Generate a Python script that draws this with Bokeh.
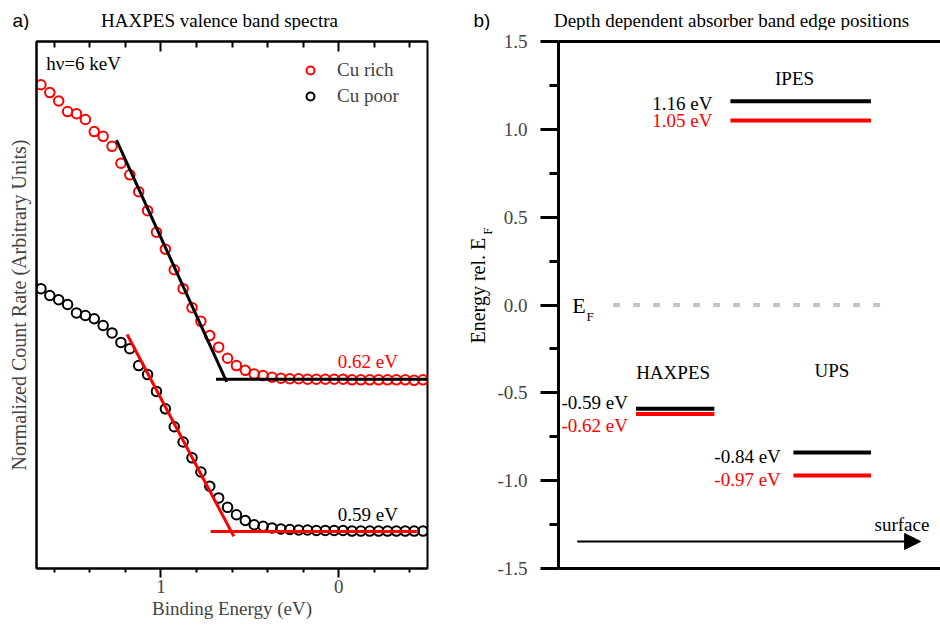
from math import pi
from bokeh.plotting import figure
from bokeh.layouts import row, column
from bokeh.models import (Range1d, LinearAxis, FixedTicker, Legend, LegendItem,
                          Arrow, NormalHead, PrintfTickFormatter)
from bokeh.core.properties import value
from bokeh.embed import file_html
from bokeh.resources import INLINE

SERIF = "Liberation Serif"
SANS = "Liberation Sans"

# ---------------- panel a) data : HAXPES valence band spectra ----------------
binding_energy = [1.725, 1.675, 1.625, 1.575, 1.525, 1.475, 1.425, 1.375, 1.325, 1.275,
                  1.225, 1.175, 1.125, 1.075, 1.025, 0.975, 0.925, 0.875, 0.825, 0.775,
                  0.725, 0.675, 0.625, 0.575, 0.525, 0.475, 0.425, 0.375, 0.325, 0.275,
                  0.225, 0.175, 0.125, 0.075, 0.025, -0.025, -0.075, -0.125, -0.175, -0.225,
                  -0.275, -0.325, -0.375, -0.425, -0.475]
cu_rich = [93.0, 91.8, 90.3, 88.7, 86.7, 86.3, 85.2, 82.9, 82.0, 80.1,
           76.9, 74.7, 71.5, 67.9, 63.8, 60.6, 56.7, 53.1, 49.5, 46.9,
           44.2, 42.0, 39.9, 38.5, 37.6, 36.9, 36.6, 36.3, 36.1, 36.0,
           36.0, 35.9, 35.9, 35.9, 35.9, 35.9, 35.8, 35.8, 35.8, 35.8,
           35.8, 35.8, 35.8, 35.7, 35.8]
cu_poor = [54.3, 53.1, 51.8, 51.0, 50.1, 48.5, 48.0, 47.4, 46.1, 44.7,
           42.9, 41.7, 38.5, 36.8, 33.6, 30.3, 26.9, 24.0, 21.0, 18.3,
           15.6, 13.4, 11.6, 10.2, 9.1, 8.3, 8.0, 7.7, 7.5, 7.4,
           7.3, 7.3, 7.2, 7.2, 7.2, 7.2, 7.1, 7.1, 7.1, 7.1,
           7.1, 7.1, 7.1, 7.1, 7.1]

# linear extrapolations of the leading edge and of the background
rich_edge_x = [1.25, 0.63]
rich_edge_y = [81.3, 35.4]
rich_base_x = [0.69, -0.50]
rich_base_y = [35.9, 35.9]
poor_edge_x = [1.19, 0.59]
poor_edge_y = [44.4, 6.1]
poor_base_x = [0.72, -0.44]
poor_base_y = [7.0, 7.0]

vbm_rich_text = "0.62 eV"
vbm_poor_text = "0.59 eV"

# ---------------- panel b) data : band edge positions ----------------
methods = ["IPES", "HAXPES", "UPS"]
cu_poor_levels = [1.16, -0.59, -0.84]
cu_rich_levels = [1.05, -0.62, -0.97]
fermi_level = 0.0

# layout (depth axis, arbitrary 0..100) for panel b
bar_x0 = [45.0, 20.3, 61.5]
bar_x1 = [81.8, 40.8, 81.8]
method_label_x = [61.8, 30.0, 71.6]
method_label_y = [1.289, -0.384, -0.373]
value_label_x = [40.3, 18.2, 58.2]
poor_label_dy = [2, -6, 4]
rich_label_dy = [0, 12, 4]

HEADER_H = 30
TOP = 11          # space above the plot frames (frames start at 41 px)
BOTTOM = 57
ROW_H = 625 - HEADER_H
YLAB_W = 34


def bare(fig):
    fig.outline_line_color = None
    for g in fig.grid:
        g.visible = False


# ====================== header (panel letters and titles) ======================
header = figure(width=940, height=HEADER_H, x_range=Range1d(0, 940), y_range=Range1d(HEADER_H, 0),
                output_backend="svg", toolbar_location=None, min_border=0,
                x_axis_location=None, y_axis_location=None)
bare(header)
header.text(x=[12, 473], y=[20, 20], text=["a)", "b)"], text_font=value(SANS),
            text_font_size="19px", text_align="left", text_baseline="middle")
header.text(x=[219, 731], y=[20, 20],
            text=["HAXPES valence band spectra", "Depth dependent absorber band edge positions"],
            text_font=value(SERIF), text_font_size="19px", text_align="center", text_baseline="middle")

# ====================== panel a ======================
pa = figure(width=460, height=ROW_H, x_range=Range1d(1.70, -0.50), y_range=Range1d(0, 100),
            output_backend="svg", toolbar_location=None,
            min_border_left=36, min_border_right=33, min_border_top=TOP, min_border_bottom=BOTTOM,
            x_axis_location=None, y_axis_location=None)
for g in pa.grid:
    g.visible = False
pa.outline_line_color = "black"
pa.outline_line_width = 2
pa.outline_line_alpha = 1.0

ticker_a = FixedTicker(ticks=[1, 0], minor_ticks=[1.6, 1.4, 1.2, 0.8, 0.6, 0.4, 0.2, -0.2, -0.4])
xb = LinearAxis(ticker=ticker_a, axis_label="Binding Energy (eV)",
                axis_line_width=2, major_tick_line_width=2, minor_tick_line_width=2,
                major_tick_out=9, major_tick_in=0, minor_tick_out=4, minor_tick_in=0,
                major_label_standoff=2, axis_label_standoff=2,
                major_label_text_font=SERIF, major_label_text_font_size="19px",
                axis_label_text_font=SERIF, axis_label_text_font_size="19px",
                axis_label_text_font_style="normal")
pa.add_layout(xb, "below")
xt = LinearAxis(ticker=ticker_a, axis_line_width=2, major_tick_line_width=2, minor_tick_line_width=2,
                major_tick_out=0, major_tick_in=10, minor_tick_out=0, minor_tick_in=6,
                major_label_standoff=0, major_label_text_font_size="0px",
                major_label_overrides={0: "", 1: ""})
pa.add_layout(xt, "above")
yl = LinearAxis(ticker=FixedTicker(ticks=[]), axis_label="Normalized Count Rate (Arbitrary Units)",
                axis_line_width=2, major_tick_out=0, major_tick_in=0, minor_tick_out=0, minor_tick_in=0,
                major_tick_line_color=None, minor_tick_line_color=None,
                major_label_standoff=0, axis_label_standoff=7,
                axis_label_text_font=SERIF, axis_label_text_font_size="20px",
                axis_label_text_font_style="normal")
pa.add_layout(yl, "left")

r_rich = pa.scatter(binding_energy, cu_rich, marker="circle", size=9.5, fill_color=None,
                    line_color="red", line_width=2)
r_poor = pa.scatter(binding_energy, cu_poor, marker="circle", size=9.5, fill_color=None,
                    line_color="black", line_width=2)
pa.line(rich_edge_x, rich_edge_y, line_color="black", line_width=3)
pa.line(rich_base_x, rich_base_y, line_color="black", line_width=3)
pa.line(poor_edge_x, poor_edge_y, line_color="red", line_width=3)
pa.line(poor_base_x, poor_base_y, line_color="red", line_width=3)

pa.text(x=[0.005], y=[39.3], text=[vbm_rich_text], text_color="red", text_font=value(SERIF),
        text_font_size="19px", text_align="left", text_baseline="middle")
pa.text(x=[0.005], y=[10.2], text=[vbm_poor_text], text_color="black", text_font=value(SERIF),
        text_font_size="19px", text_align="left", text_baseline="middle")
pa.text(x=[1.645], y=[95.8], text=["h\u03bd=6 keV"], text_color="black", text_font=value(SERIF),
        text_font_size="19px", text_align="left", text_baseline="middle")

legend = Legend(items=[LegendItem(label="Cu rich", renderers=[r_rich]),
                       LegendItem(label="Cu poor", renderers=[r_poor])],
                location=(264, 461), padding=0, margin=0, spacing=4,
                glyph_width=20, glyph_height=20, label_height=20, label_standoff=17,
                label_text_font=SERIF, label_text_font_size="19px",
                border_line_color=None, background_fill_alpha=0)
pa.add_layout(legend)

# ====================== y label of panel b (with subscript) ======================
ylab = figure(width=YLAB_W, height=ROW_H, x_range=Range1d(0, YLAB_W), y_range=Range1d(-1.5, 1.5),
              output_backend="svg", toolbar_location=None, min_border_left=0, min_border_right=0,
              min_border_top=TOP, min_border_bottom=BOTTOM,
              x_axis_location=None, y_axis_location=None)
bare(ylab)
ylab.text(x=[17], y=[-0.219], text=["Energy rel. E"], angle=pi / 2, text_font=value(SERIF),
          text_font_size="20px", text_align="left", text_baseline="middle")
ylab.text(x=[27], y=[0.40], text=["F"], angle=pi / 2, text_font=value(SERIF),
          text_font_size="13px", text_align="left", text_baseline="middle")

# ====================== panel b ======================
pb = figure(width=940 - 460 - YLAB_W, height=ROW_H, x_range=Range1d(0, 100), y_range=Range1d(-1.5, 1.5),
            output_backend="svg", toolbar_location=None,
            min_border_left=61, min_border_right=0, min_border_top=TOP, min_border_bottom=BOTTOM,
            x_axis_location=None, y_axis_location=None)
bare(pb)

ticker_b = FixedTicker(ticks=[-1.5, -1.0, -0.5, 0.0, 0.5, 1.0, 1.5],
                       minor_ticks=[-1.25, -0.75, -0.25, 0.25, 0.75, 1.25])
ylb = LinearAxis(ticker=ticker_b, formatter=PrintfTickFormatter(format="%.1f"),
                 axis_line_width=3, major_tick_line_width=3, minor_tick_line_width=3,
                 major_tick_out=18, major_tick_in=0, minor_tick_out=9, minor_tick_in=0,
                 major_label_standoff=13, major_label_text_font=SERIF,
                 major_label_text_font_size="19px")
pb.add_layout(ylb, "left")
for loc in ("above", "below"):
    pb.add_layout(LinearAxis(ticker=FixedTicker(ticks=[]), axis_line_width=3,
                             major_tick_out=0, major_tick_in=0, minor_tick_out=0, minor_tick_in=0,
                             major_tick_line_color=None, minor_tick_line_color=None,
                             major_label_standoff=0),
                  loc)

pb.segment(x0=[14.3], y0=[fermi_level], x1=[87.0], y1=[fermi_level],
           line_color="#c4c4c4", line_width=4, line_dash="7 13")
pb.segment(x0=bar_x0, y0=cu_rich_levels, x1=bar_x1, y1=cu_rich_levels, line_color="red", line_width=4)
pb.segment(x0=bar_x0, y0=cu_poor_levels, x1=bar_x1, y1=cu_poor_levels, line_color="black", line_width=4)

pb.text(x=method_label_x, y=method_label_y, text=methods, text_font=value(SERIF),
        text_font_size="19px", text_align="center", text_baseline="middle")
pb.text(x=value_label_x, y=cu_poor_levels, text=[f"{v:.2f} eV" for v in cu_poor_levels],
        y_offset=poor_label_dy, text_color="black", text_font=value(SERIF),
        text_font_size="19px", text_align="right", text_baseline="middle")
pb.text(x=value_label_x, y=cu_rich_levels, text=[f"{v:.2f} eV" for v in cu_rich_levels],
        y_offset=rich_label_dy, text_color="red", text_font=value(SERIF),
        text_font_size="19px", text_align="right", text_baseline="middle")

pb.text(x=[3.6], y=[fermi_level], text=["E"], text_font=value(SERIF), text_font_size="22px",
        text_align="left", text_baseline="middle")
pb.text(x=[7.3], y=[fermi_level], text=["F"], y_offset=[11], text_font=value(SERIF),
        text_font_size="13px", text_align="left", text_baseline="middle")

pb.add_layout(Arrow(end=NormalHead(size=16, fill_color="black", line_color="black"),
                    x_start=4.9, y_start=-1.346, x_end=94.8, y_end=-1.346,
                    line_color="black", line_width=2))
pb.text(x=[97.1], y=[-1.249], text=["surface"], text_font=value(SERIF), text_font_size="19px",
        text_align="right", text_baseline="middle")

layout = column(header, row(pa, ylab, pb, spacing=0), spacing=0)
open("out.html", "w").write(file_html(layout, INLINE))
